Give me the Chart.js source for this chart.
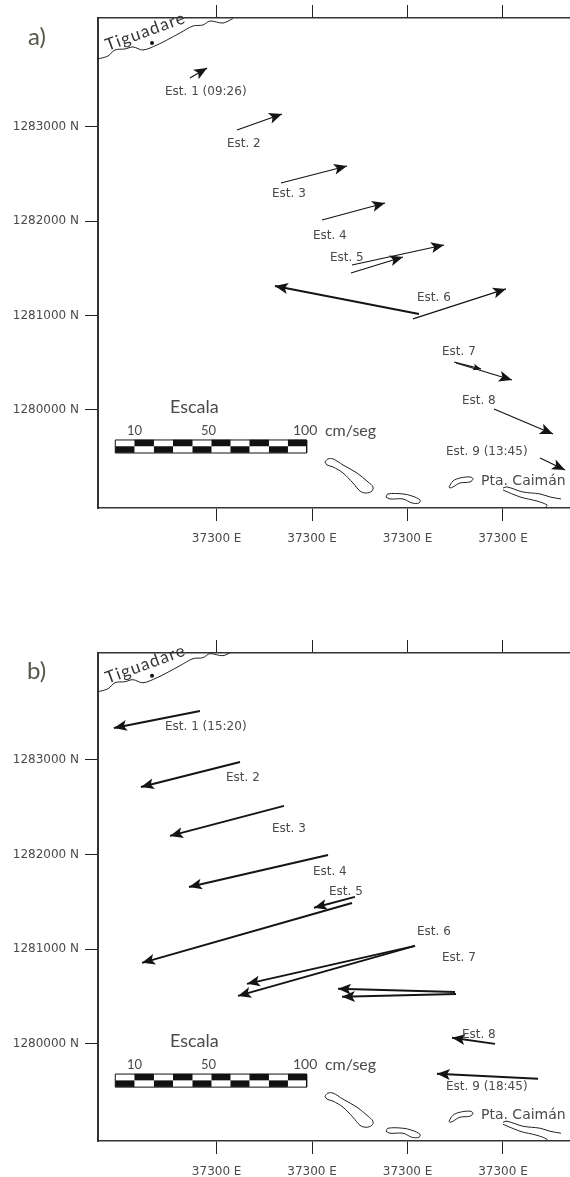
<!DOCTYPE html>
<html>
<head>
<meta charset="utf-8">
<script src="https://cdn.jsdelivr.net/npm/chart.js@4"></script>
<style>
    html, body { margin: 0; padding: 0; background: #fff; overflow: hidden; }
    body { position: relative; width: 570px; height: 1177px; }
    canvas { position: absolute; left: 0; }
    .tag { position: absolute; font: 24px Lato, sans-serif; color: #57574a; }
</style>
</head>
<body>
<canvas id="panelA"></canvas>
<canvas id="panelB"></canvas>
<div class="tag" style="left:28px;top:21px">a)</div>
<div class="tag" style="left:27px;top:655px">b)</div>

<script>
// axis ticks
const xTickValues = [373000, 374000, 375000, 376000];
const xTickLabel = '37300 E';
const yTickValues = [1280000, 1281000, 1282000, 1283000];

// panel a: stations and current arrows (east, north)
const stationsA = ['Est. 1 (09:26)', 'Est. 2', 'Est. 3', 'Est. 4', 'Est. 5', 'Est. 6', 'Est. 7', 'Est. 8', 'Est. 9 (13:45)'];
const stationEastA = [372459, 373108, 373580, 374009, 374187, 375099, 375361, 375570, 375403];
const stationNorthA = [1283381, 1282830, 1282300, 1281855, 1281622, 1281198, 1280625, 1280106, 1279565];
const arrowStartEastA = [372720, 373213, 373674, 374104, 374418, 374407, 375120, 375057, 375487, 375508, 375906, 376388];
const arrowStartNorthA = [1283520, 1282968, 1282406, 1282014, 1281537, 1281452, 1281018, 1280965, 1280509, 1280498, 1280011, 1279491];
const arrowEndEastA = [372900, 373685, 374366, 374764, 375382, 374952, 373611, 376031, 375769, 376094, 376524, 376650];
const arrowEndNorthA = [1283625, 1283138, 1282586, 1282194, 1281749, 1281622, 1281314, 1281283, 1280435, 1280318, 1279746, 1279364];

// panel b
const stationsB = ['Est. 1 (15:20)', 'Est. 2', 'Est. 3', 'Est. 4', 'Est. 5', 'Est. 6', 'Est. 7', 'Est. 8', 'Est. 9 (18:45)'];
const stationEastB = [372459, 373098, 373580, 374009, 374177, 375099, 375361, 375570, 375403];
const stationNorthB = [1283359, 1282821, 1282282, 1281828, 1281617, 1281195, 1280920, 1280107, 1279558];
const arrowStartEastB = [372825, 373245, 373706, 374167, 374449, 374418, 375078, 375078, 375497, 375508, 375916, 376367];
const arrowStartNorthB = [1283518, 1282979, 1282515, 1281997, 1281554, 1281490, 1281036, 1281036, 1280550, 1280529, 1280001, 1279632];
const arrowEndEastB = [371924, 372207, 372511, 372710, 374020, 372218, 373318, 373224, 374271, 374313, 375466, 375308];
const arrowEndNorthB = [1283338, 1282715, 1282198, 1281659, 1281438, 1280857, 1280635, 1280508, 1280582, 1280498, 1280065, 1279685];

// shoreline, same for both panels
const coastEast = [371757, 371861, 371935, 372040, 372123, 372228, 372375, 372480, 372616, 372752, 372857, 372930, 373066, 373171];
const coastNorth = [1283721, 1283752, 1283816, 1283827, 1283848, 1283816, 1283869, 1283922, 1283996, 1284070, 1284081, 1284123, 1284102, 1284150];
const island1East = [374135, 374166, 374219, 374324, 374470, 374586, 374638, 374627, 374565, 374502, 374428, 374324, 374219, 374156, 374135];
const island1North = [1279449, 1279481, 1279481, 1279417, 1279332, 1279237, 1279184, 1279141, 1279120, 1279141, 1279226, 1279332, 1279396, 1279417, 1279449];
const island2East = [374774, 374795, 374952, 375047, 375130, 375120, 375047, 374952, 374816, 374774];
const island2North = [1279078, 1279110, 1279110, 1279088, 1279046, 1279014, 1279014, 1279057, 1279057, 1279078];
const island3East = [375434, 375476, 375549, 375654, 375686, 375654, 375549, 375476, 375445, 375434];
const island3North = [1279184, 1279247, 1279279, 1279290, 1279269, 1279237, 1279226, 1279184, 1279173, 1279184];
const shoreUpperEast = [376000, 376042, 376209, 376388, 376492, 376608];
const shoreUpperNorth = [1279173, 1279184, 1279131, 1279110, 1279078, 1279057];
const shoreLowerEast = [376000, 376178, 376356, 376461, 376450];
const shoreLowerNorth = [1279152, 1279078, 1279035, 1278993, 1278972];

// scale bar cell edges
const scaleEdges = [371938, 372139, 372343, 372543, 372747, 372946, 373145, 373344, 373548, 373747, 373943];
const scaleRowNorth = [1279650, 1279581];
const scaleFrameNorth = [1279682, 1279544];

// fixed map labels
const mapLabels = ['Escala', '10', '50', '100', 'cm/seg', 'Pta. Caimán'];
const mapLabelEast = [372511, 372061, 372836, 373800, 374135, 375769];
const mapLabelNorth = [1280033, 1279779, 1279779, 1279779, 1279779, 1279245];
const mapLabelFonts = ['18px Lato', '13px Lato', '13px Lato', '14px Lato', '16px Lato', '14px "DejaVu Sans"'];

const pairs = (xs, ys) => xs.map((x, i) => ({ x: x, y: ys[i] }));
const INK = '#141414';
const TEXT = '#4a4a4a';
const BODY_FONT = '12px "DejaVu Sans"';

function outline(xs, ys, extra) {
    return Object.assign({
        data: pairs(xs, ys),
        borderColor: '#222',
        borderWidth: 1,
        pointRadius: 0,
        tension: 0.35
    }, extra || {});
}

// arrow heads and text go on top of the datasets
const mapPlugin = {
    id: 'mapPlugin',
    afterDatasetsDraw(chart, args, opts) {
        const ctx = chart.ctx;
        const xs = chart.scales.x, ys = chart.scales.y;

        chart.data.datasets.forEach((ds, i) => {
            if (!ds.isArrow) return;
            const pts = chart.getDatasetMeta(i).data;
            const ang = Math.atan2(pts[1].y - pts[0].y, pts[1].x - pts[0].x);
            ctx.save();
            ctx.translate(pts[1].x, pts[1].y);
            ctx.rotate(ang);
            ctx.scale(ds.headScale, ds.headScale);
            ctx.fillStyle = INK;
            ctx.beginPath();
            ctx.moveTo(0, 0);
            ctx.lineTo(-13, -5.5);
            ctx.lineTo(-10, 0);
            ctx.lineTo(-13, 5.5);
            ctx.closePath();
            ctx.fill();
            ctx.restore();
        });

        ctx.save();
        ctx.textBaseline = 'middle';
        ctx.textAlign = 'left';
        ctx.fillStyle = TEXT;
        ctx.font = BODY_FONT;
        opts.labels.forEach((t, i) => {
            ctx.fillText(t, xs.getPixelForValue(opts.east[i]), ys.getPixelForValue(opts.north[i]) + 1);
        });
        mapLabels.forEach((t, i) => {
            ctx.font = mapLabelFonts[i];
            ctx.fillText(t, xs.getPixelForValue(mapLabelEast[i]), ys.getPixelForValue(mapLabelNorth[i]));
        });
        // town name follows the shore
        ctx.translate(xs.getPixelForValue(371860), ys.getPixelForValue(1283805));
        ctx.rotate(-20 * Math.PI / 180);
        ctx.textBaseline = 'alphabetic';
        ctx.font = '17px Lato';
        ctx.letterSpacing = '1.2px';
        ctx.fillStyle = '#333';
        ctx.fillText('Tiguadare', 0, 0);
        ctx.restore();
    }
};

function noPad(s) {
    s.paddingLeft = s.paddingRight = s.paddingTop = s.paddingBottom = 0;
}

function makePanel(id, cfg) {
    const canvas = document.getElementById(id);
    canvas.style.top = cfg.top + 'px';
    canvas.width = 570;
    canvas.height = cfg.height;

    const datasets = [
        outline(coastEast, coastNorth),
        outline(island1East, island1North),
        outline(island2East, island2North),
        outline(island3East, island3North),
        outline(shoreUpperEast, shoreUpperNorth),
        outline(shoreLowerEast, shoreLowerNorth),
        // town dot
        { data: pairs([372323], [1283890]), showLine: false, pointRadius: 2, pointBackgroundColor: '#111', pointBorderWidth: 0 }
    ];

    // scale bar, black cells alternate between the two rows
    for (let c = 0; c < scaleEdges.length - 1; c++) {
        const row = c % 2 === 0 ? 1 : 0;
        datasets.push({
            data: pairs([scaleEdges[c], scaleEdges[c + 1]], [scaleRowNorth[row], scaleRowNorth[row]]),
            borderColor: '#111', borderWidth: 6.5, pointRadius: 0, borderCapStyle: 'butt'
        });
    }
    const l = scaleEdges[0], r = scaleEdges[scaleEdges.length - 1];
    datasets.push(outline([l, r, r, l, l], [scaleFrameNorth[0], scaleFrameNorth[0], scaleFrameNorth[1], scaleFrameNorth[1], scaleFrameNorth[0]], { tension: 0, borderColor: '#111' }));

    cfg.startE.forEach((e, i) => {
        datasets.push({
            isArrow: true,
            headScale: i === cfg.smallHead ? 0.6 : 1,
            data: pairs([e, cfg.endE[i]], [cfg.startN[i], cfg.endN[i]]),
            borderColor: INK, borderWidth: i === cfg.thickArrow ? 2 : cfg.arrowWidth, pointRadius: 0
        });
    });

    return new Chart(canvas, {
        type: 'line',
        data: { datasets: datasets },
        plugins: [mapPlugin],
        options: {
            responsive: false,
            animation: false,
            parsing: false,
            layout: { padding: 0, autoPadding: false },
            plugins: {
                legend: { display: false },
                tooltip: { enabled: false },
                mapPlugin: { labels: cfg.labels, east: cfg.labelE, north: cfg.labelN }
            },
            scales: {
                x: {
                    type: 'linear', position: 'bottom', min: 371757, max: 376702,
                    afterBuildTicks: s => { s.ticks = xTickValues.map(v => ({ value: v })); },
                    afterFit: s => { s.height = cfg.bottomAxis; noPad(s); },
                    border: { color: '#333', width: 1.5 },
                    grid: { drawOnChartArea: false, tickLength: 13, tickColor: '#222', tickWidth: 1 },
                    ticks: { padding: 11, color: TEXT, font: { family: 'DejaVu Sans', size: 12 }, maxRotation: 0, autoSkip: false, callback: () => xTickLabel }
                },
                xTop: {
                    type: 'linear', position: 'top', min: 371757, max: 376702,
                    afterBuildTicks: s => { s.ticks = xTickValues.map(v => ({ value: v })); },
                    afterFit: s => { s.height = cfg.topAxis; noPad(s); },
                    border: { color: '#333', width: 1.5 },
                    grid: { drawOnChartArea: false, tickLength: 13, tickColor: '#222', tickWidth: 1 },
                    ticks: { display: false }
                },
                y: {
                    type: 'linear', position: 'left', min: cfg.minN, max: cfg.maxN,
                    afterBuildTicks: s => { s.ticks = yTickValues.map(v => ({ value: v })); },
                    afterFit: s => { s.width = 98; noPad(s); },
                    border: { color: '#333', width: 2 },
                    grid: { drawOnChartArea: false, tickLength: 13, tickColor: '#222', tickWidth: 1 },
                    ticks: { padding: 6, color: TEXT, font: { family: 'DejaVu Sans', size: 12 }, autoSkip: false, callback: v => v + ' N' }
                }
            }
        }
    });
}

makePanel('panelA', {
    top: 0, height: 570, topAxis: 18, bottomAxis: 62,
    minN: 1278961, maxN: 1284155, arrowWidth: 1.2, thickArrow: 6, smallHead: 8,
    startE: arrowStartEastA, startN: arrowStartNorthA, endE: arrowEndEastA, endN: arrowEndNorthA,
    labels: stationsA, labelE: stationEastA, labelN: stationNorthA
});
makePanel('panelB', {
    top: 639, height: 538, topAxis: 14, bottomAxis: 36,
    minN: 1278975, maxN: 1284130, arrowWidth: 2,
    startE: arrowStartEastB, startN: arrowStartNorthB, endE: arrowEndEastB, endN: arrowEndNorthB,
    labels: stationsB, labelE: stationEastB, labelN: stationNorthB
});
</script>
</body>
</html>
